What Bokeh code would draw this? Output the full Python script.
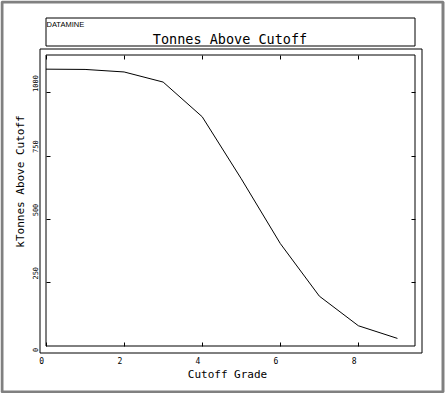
import math
from bokeh.plotting import figure
from bokeh.models import Range1d, LinearAxis, FixedTicker, BoxAnnotation, Label, Grid
from bokeh.embed import file_html
from bokeh.resources import INLINE

# ---- data ----
grade = [0, 1, 2, 3, 4, 5, 6, 7, 8, 9]
ktonnes = [1094, 1093, 1083, 1043, 906, 661, 405, 197, 80, 30]
x_ticks = [0, 2, 4, 6, 8]
y_ticks = [250, 500, 750, 1000]
y_zero_tick = [0]
x_title = "Cutoff Grade"
y_title = "kTonnes Above Cutoff"
chart_title = "Tonnes Above Cutoff"
brand = "DATAMINE"

MONO = "DejaVu Sans Mono"
X_END = 9.45
Y_END = 1150

# ---- layout (pixels on the canvas) ----
W, H = 445, 393
IL, IR, IT, IB = 45.5, 414.5, 54.5, 345.5   # inner plot box
SX = (IR - IL) / X_END
SY = (IB - IT) / Y_END


def dx(px):
    return (px - IL) / SX


def dy(py):
    return (IB - py) / SY


p = figure(width=W, height=H, output_backend="svg", toolbar_location=None,
           x_range=Range1d(dx(0), dx(W)), y_range=Range1d(dy(H), dy(0)),
           x_axis_location=None, y_axis_location=None,
           min_border_left=0, min_border_right=0, min_border_top=0, min_border_bottom=0,
           background_fill_color="white", border_fill_color="white")
p.outline_line_color = None
for r in list(p.center):
    if isinstance(r, Grid):
        r.visible = False

x0, x1 = dx(0), dx(W)
y0_, y1_ = dy(H), dy(0)
p.extra_x_ranges = {"xlab": Range1d(x0 + 4.3 / SX, x1 + 4.3 / SX)}
p.extra_y_ranges = {
    "ylab": Range1d(y0_ - 9.5 / SY, y1_ - 9.5 / SY),
    "y0": Range1d(y0_ + 4 / SY, y1_ + 4 / SY),
}


def tick_axis(ticks, loc):
    ax = LinearAxis(ticker=FixedTicker(ticks=ticks), fixed_location=loc)
    ax.axis_line_color = None
    ax.major_tick_in = 4
    ax.major_tick_out = 0
    ax.minor_tick_in = 0
    ax.minor_tick_out = 0
    ax.minor_tick_line_color = None
    ax.major_tick_line_color = "black"
    ax.major_tick_line_width = 1
    ax.major_label_text_color = None
    return ax


p.add_layout(tick_axis(x_ticks, 0), "below")
p.add_layout(tick_axis(x_ticks, Y_END), "above")
p.add_layout(tick_axis(y_ticks, 0), "left")
p.add_layout(tick_axis(y_ticks, X_END), "right")


def label_axis(ticks, **kw):
    ax = LinearAxis(ticker=FixedTicker(ticks=ticks), **kw)
    ax.axis_line_color = None
    ax.major_tick_line_color = None
    ax.minor_tick_line_color = None
    ax.major_tick_in = 0
    ax.major_tick_out = 0
    ax.minor_tick_in = 0
    ax.minor_tick_out = 0
    ax.major_label_text_font = MONO
    ax.major_label_text_color = "black"
    return ax


xl = label_axis(x_ticks, x_range_name="xlab", fixed_location=0)
xl.major_label_text_font_size = "8px"
xl.major_label_standoff = 11
p.add_layout(xl, "below")

yl = label_axis(y_ticks, y_range_name="ylab", fixed_location=0)
yl.major_label_text_font_size = "7px"
yl.major_label_orientation = "vertical"
yl.major_label_standoff = 8
p.add_layout(yl, "left")

yz = label_axis(y_zero_tick, y_range_name="y0", fixed_location=0)
yz.major_label_text_font_size = "7px"
yz.major_label_orientation = "vertical"
yz.major_label_standoff = 8
p.add_layout(yz, "left")

# axis titles
p.add_layout(Label(x=dx(227), y=dy(374), text=x_title, text_font=MONO,
                   text_font_size="11px", text_align="center",
                   text_baseline="alphabetic", text_color="black"))
p.add_layout(Label(x=dx(19.8), y=dy(181), text=y_title, text_font=MONO,
                   text_font_size="11px", text_align="center", angle=math.pi / 2,
                   text_baseline="alphabetic", text_color="black"))

# boxes
box_kw = dict(fill_color=None, fill_alpha=0, line_color="black", line_width=1, line_alpha=1)
p.add_layout(BoxAnnotation(left=dx(45.5), right=dx(414.5), top=dy(17.5), bottom=dy(45.5), **box_kw))
p.add_layout(BoxAnnotation(left=dx(39.5), right=dx(421.5), top=dy(48.5), bottom=dy(352.5), **box_kw))
p.add_layout(BoxAnnotation(left=dx(IL), right=dx(IR), top=dy(IT), bottom=dy(IB), **box_kw))
p.add_layout(BoxAnnotation(left=dx(1.5), right=dx(442.5), top=dy(1.5), bottom=dy(391.5),
                           fill_color=None, fill_alpha=0, line_color="#808080",
                           line_width=3, line_alpha=1))

# title texts
p.add_layout(Label(x=dx(46), y=dy(23.5), text=brand,
                   text_font="Liberation Sans", text_font_size="7.5px",
                   text_align="left", text_baseline="alphabetic", text_color="black"))
p.add_layout(Label(x=dx(229.5), y=dy(38.5), text=chart_title,
                   text_font=MONO, text_font_size="13.5px",
                   text_align="center", text_baseline="alphabetic", text_color="black"))

p.line(grade, ktonnes, line_color="black", line_width=1)

open("out.html", "w").write(file_html(p, INLINE))
